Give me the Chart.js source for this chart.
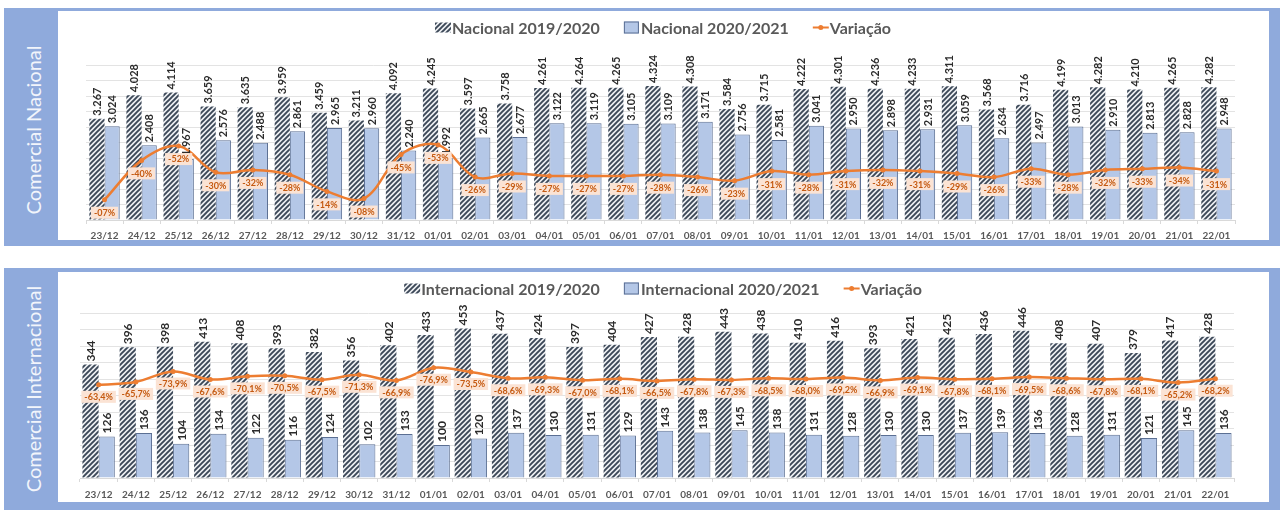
<!DOCTYPE html>
<html><head><meta charset="utf-8">
<script src="https://cdn.jsdelivr.net/npm/chart.js@4.4.1/dist/chart.umd.min.js"></script>
<style>
html,body{margin:0;padding:0;background:#fff;width:1280px;height:510px;overflow:hidden;position:relative;}
.frame{position:absolute;background:#8FAADC;}
.inner{position:absolute;background:#fff;}
.side{position:absolute;color:#F2F5FB;font-family:Lato,sans-serif;font-size:20px;white-space:nowrap;transform:translate(-50%,-50%) rotate(-90deg);}
canvas{position:absolute;}
</style></head><body>
<div class="frame" style="left:4px;top:8px;width:1276px;height:238px"></div>
<div class="inner" style="left:58px;top:11px;width:1211px;height:229px"></div>
<div class="side" style="left:33px;top:130px">Comercial Nacional</div>
<canvas id="c1" width="1210" height="229" style="left:58px;top:11px;width:1210px;height:229px"></canvas>

<div class="frame" style="left:4px;top:268px;width:1276px;height:242px"></div>
<div class="inner" style="left:58px;top:272px;width:1211px;height:230px"></div>
<div class="side" style="left:33px;top:389px">Comercial Internacional</div>
<canvas id="c2" width="1210" height="230" style="left:58px;top:272px;width:1210px;height:230px"></canvas>

<script>
const categories = ['23/12','24/12','25/12','26/12','27/12','28/12','29/12','30/12','31/12','01/01','02/01','03/01','04/01','05/01','06/01','07/01','08/01','09/01','10/01','11/01','12/01','13/01','14/01','15/01','16/01','17/01','18/01','19/01','20/01','21/01','22/01'];

const nacional1920 = [3267,4028,4114,3659,3635,3959,3459,3211,4092,4245,3597,3758,4261,4264,4265,4324,4308,3584,3715,4222,4301,4236,4233,4311,3568,3716,4199,4282,4210,4265,4282];
const nacional2021 = [3024,2408,1967,2576,2488,2861,2965,2960,2240,1992,2665,2677,3122,3119,3105,3109,3171,2756,2581,3041,2950,2898,2931,3059,2634,2497,3013,2910,2813,2828,2948];
const nacionalVar  = [-7,-40,-52,-30,-32,-28,-14,-8,-45,-53,-26,-29,-27,-27,-27,-28,-26,-23,-31,-28,-31,-32,-31,-29,-26,-33,-28,-32,-33,-34,-31];

const internacional1920 = [344,396,398,413,408,393,382,356,402,433,453,437,424,397,404,427,428,443,438,410,416,393,421,425,436,446,408,407,379,417,428];
const internacional2021 = [126,136,104,134,122,116,124,102,133,100,120,137,130,131,129,143,138,145,138,131,128,130,130,137,139,136,128,131,121,145,136];
const internacionalVar  = [-63.4,-65.7,-73.9,-67.6,-70.1,-70.5,-67.5,-71.3,-66.9,-76.9,-73.5,-68.6,-69.3,-67.0,-68.1,-66.5,-67.8,-67.3,-68.5,-68.0,-69.2,-66.9,-69.1,-67.8,-68.1,-69.5,-68.6,-67.8,-68.1,-65.2,-68.2];

const nacionalTicks = {min:0, max:5000, step:500};
const internacionalTicks = {min:0, max:500, step:50};
const varAxis = {min:-120, max:10};

const FONT = 'Lato, "Open Sans", sans-serif';
const ORANGE = '#ED7D31';

function hatchPattern(){
  const s = 5;
  const c = document.createElement('canvas'); c.width = s; c.height = s;
  const x = c.getContext('2d');
  x.fillStyle = '#EDEFF2'; x.fillRect(0,0,s,s);
  x.strokeStyle = '#3B4757'; x.lineWidth = 1.9;
  x.beginPath();
  x.moveTo(-1, s+1); x.lineTo(s+1, -1);
  x.moveTo(-s-1, s+1); x.lineTo(1, -1);
  x.moveTo(-1, 2*s+1); x.lineTo(2*s+1, -1);
  x.stroke();
  return x.createPattern(c, 'repeat');
}
const HATCH = hatchPattern();

const fmtThousands = v => String(v).replace(/\B(?=(\d{3})+(?!\d))/g, '.');
const fmtPct0 = v => (v < 0 ? '-' : '') + String(Math.abs(v)).padStart(2,'0') + '%';
const fmtPct1 = v => (v < 0 ? '-' : '') + Math.abs(v).toFixed(1).replace('.', ',') + '%';

const labelPlugin = {
  id: 'valueLabels',
  afterDatasetsDraw(chart, args, o) {
    const ctx = chart.ctx;
    [0,1].forEach(di => {
      const meta = chart.getDatasetMeta(di);
      const ds = chart.data.datasets[di];
      meta.data.forEach((el, i) => {
        ctx.save();
        ctx.translate(el.x, el.y - 3);
        ctx.rotate(-Math.PI/2);
        ctx.font = o.barFont;
        ctx.fillStyle = '#2B2B2B';
        ctx.textAlign = 'left';
        ctx.textBaseline = 'middle';
        ctx.fillText(o.fmtBar(ds.data[i]), 0, 0.5);
        ctx.restore();
      });
    });
    const meta = chart.getDatasetMeta(2);
    const ds = chart.data.datasets[2];
    meta.data.forEach((el, i) => {
      const t = o.fmtVar(ds.data[i]);
      ctx.save();
      ctx.font = o.varFont;
      const w = ctx.measureText(t).width + 6, h = 12;
      const cx = el.x, cy = el.y + o.varDy;
      ctx.fillStyle = '#FBE3D4';
      ctx.fillRect(cx - w/2, cy - h/2, w, h);
      ctx.fillStyle = '#C55A11';
      ctx.textAlign = 'center';
      ctx.textBaseline = 'middle';
      ctx.fillText(t, cx, cy + 0.5);
      ctx.restore();
    });
  }
};

const legendPlugin = {
  id: 'excelLegend',
  afterDraw(chart, args, o) {
    const ctx = chart.ctx;
    const ds = chart.data.datasets;
    ctx.save();
    ctx.font = o.font;
    const sw = 16, gap = 1, sep = 24;
    const widths = ds.map(d => ctx.measureText(d.label).width);
    const total = widths.reduce((a,b)=>a+b,0) + ds.length*(sw+gap) + sep*(ds.length-1);
    let x = chart.width/2 - total/2;
    const y = o.y;
    ds.forEach((d, i) => {
      if (i === 0) {
        ctx.fillStyle = HATCH; ctx.fillRect(x, y-5, sw, 10);
      } else if (i === 1) {
        ctx.fillStyle = '#B4C7E7'; ctx.fillRect(x, y-6, sw-1, 12);
        ctx.strokeStyle = '#5B6F93'; ctx.lineWidth = 1; ctx.strokeRect(x+0.5, y-5.5, sw-2, 11);
      } else {
        ctx.strokeStyle = ORANGE; ctx.lineWidth = 2;
        ctx.beginPath(); ctx.moveTo(x, y); ctx.lineTo(x+sw, y); ctx.stroke();
        ctx.fillStyle = ORANGE; ctx.beginPath(); ctx.arc(x+sw/2, y, 2.5, 0, Math.PI*2); ctx.fill();
      }
      x += sw + gap;
      ctx.fillStyle = '#595959';
      ctx.textAlign = 'left'; ctx.textBaseline = 'middle';
      ctx.fillText(d.label, x, y + 1);
      x += widths[i] + sep;
    });
    ctx.restore();
  }
};

function makeChart(id, cfg) {
  return new Chart(document.getElementById(id), {
    type: 'bar',
    data: {
      labels: categories,
      datasets: [
        {label: cfg.names[0], data: cfg.a, backgroundColor: HATCH, borderColor: '#4A5568', borderWidth: 0,
         categoryPercentage: cfg.catPct, barPercentage: 1.0, order: 2, yAxisID: 'y'},
        {label: cfg.names[1], data: cfg.b, backgroundColor: '#B4C7E7', borderColor: '#5B6F93', borderWidth: 1,
         categoryPercentage: cfg.catPct, barPercentage: 1.0, order: 2, yAxisID: 'y'},
        {label: cfg.names[2], data: cfg.v, type: 'line', yAxisID: 'y2', order: 0,
         borderColor: ORANGE, backgroundColor: ORANGE, borderWidth: 2.5, tension: 0.35,
         pointRadius: 2.5, pointBackgroundColor: ORANGE, pointBorderWidth: 0}
      ]
    },
    options: {
      responsive: false, animation: false, devicePixelRatio: 1,
      layout: {padding: cfg.padding},
      plugins: {
        legend: {display: false}, tooltip: {enabled: false},
        valueLabels: {barFont: cfg.barFont, fmtBar: cfg.fmtBar, varFont: 'bold 9px ' + FONT, fmtVar: cfg.fmtVar, varDy: cfg.varDy},
        excelLegend: {font: 'bold 16px ' + FONT, y: cfg.legendY}
      },
      scales: {
        x: {
          offset: true,
          grid: {display: true, drawOnChartArea: false, drawTicks: true, tickLength: 4, color: '#D9D9D9', offset: true},
          border: {display: true, color: '#D9D9D9'},
          ticks: {font: {family: FONT, size: 10, weight: 'bold'}, color: '#595959', padding: cfg.tickPad, maxRotation: 0, autoSkip: false},
          afterFit: s => { s.height = 20; }
        },
        y: {
          min: cfg.ticks.min, max: cfg.ticks.max,
          ticks: {display: false, stepSize: cfg.ticks.step},
          grid: {color: '#E3E3E3', drawTicks: false},
          border: {display: false},
          afterFit: s => { s.width = 0; }
        },
        y2: {
          display: false, reverse: true, min: varAxis.min, max: varAxis.max
        }
      }
    },
    plugins: [labelPlugin, legendPlugin]
  });
}

makeChart('c1', {
  names: ['Nacional 2019/2020', 'Nacional 2020/2021', 'Variação'],
  a: nacional1920, b: nacional2021, v: nacionalVar,
  ticks: nacionalTicks, catPct: 0.82,
  padding: {left: 28, right: 33, top: 54, bottom: 0},
  barFont: 'bold 11px ' + FONT, fmtBar: fmtThousands, fmtVar: fmtPct0, varDy: 13,
  legendY: 16.5, tickPad: 6
});

makeChart('c2', {
  names: ['Internacional 2019/2020', 'Internacional 2020/2021', 'Variação'],
  a: internacional1920, b: internacional2021, v: internacionalVar,
  ticks: internacionalTicks, catPct: 0.87,
  padding: {left: 22, right: 34, top: 41, bottom: 4},
  barFont: 'bold 12px ' + FONT, fmtBar: v => String(v), fmtVar: fmtPct1, varDy: 12,
  legendY: 16.5, tickPad: 7
});
</script>
</body></html>
